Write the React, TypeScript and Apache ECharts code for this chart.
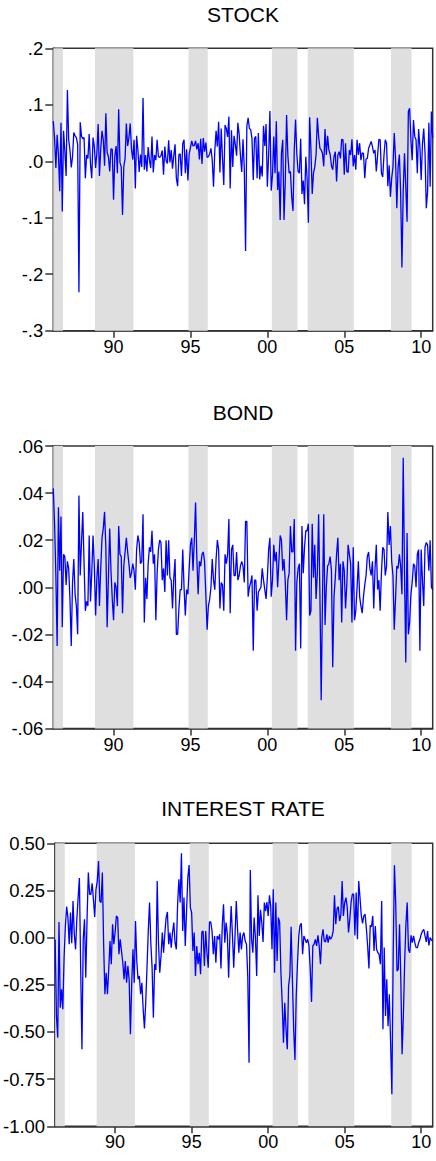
import React, { useEffect, useRef } from "react";
import * as echarts from "echarts";

// Monthly observations, first one 1986-02, last one 2010-10
const FIRST_YEAR = 1986;
const FIRST_MONTH = 2;

const tickYears = [1990, 1995, 2000, 2005, 2010];
const tickLabels = ["90", "95", "00", "05", "10"];

const shadedPeriods: [string, string][] = [
  ["1986-02", "1986-09"],
  ["1988-11", "1991-04"],
  ["1994-12", "1996-02"],
  ["2000-05", "2001-12"],
  ["2002-09", "2005-08"],
  ["2008-02", "2009-05"],
];

const panelTitles = ["STOCK", "BOND", "INTEREST RATE"];

const stockReturns = [
  0.071, 0.040, -0.012, 0.047, 0.012, -0.053, 0.068, -0.089, 0.054, 0.018, -0.026, // 1986
  0.126, 0.038, 0.020, -0.011, 0.008, 0.051, 0.045, 0.042, 0.030, -0.232, 0.069, 0.044, // 1987
  0.040, 0.042, -0.030, 0.011, 0.005, 0.048, -0.005, -0.030, 0.042, 0.026, -0.012, 0.015, // 1988
  0.066, -0.026, 0.021, 0.054, 0.038, -0.008, 0.085, 0.016, 0.008, -0.018, 0.022, 0.021, // 1989
  -0.068, 0.009, 0.027, -0.021, 0.092, -0.002, -0.010, -0.095, -0.010, 0.005, 0.067, 0.027, // 1990
  0.042, 0.067, 0.022, 0.003, 0.038, -0.048, 0.045, 0.020, -0.019, 0.012, -0.010, 0.112, // 1991
  -0.015, 0.011, -0.018, 0.025, 0.002, -0.012, 0.044, -0.020, 0.011, 0.002, 0.038, 0.008, // 1992
  0.007, 0.010, 0.019, -0.024, 0.026, 0.001, -0.004, 0.037, -0.002, 0.020, -0.013, 0.010, // 1993
  0.030, -0.030, -0.044, 0.012, 0.013, -0.026, 0.031, 0.038, -0.021, 0.021, -0.034, 0.013, // 1994
  0.024, 0.036, 0.027, 0.028, 0.036, 0.021, 0.032, 0.003, 0.040, -0.005, 0.041, 0.017, // 1995
  0.033, 0.007, 0.008, 0.013, 0.023, 0.002, -0.045, 0.019, 0.054, 0.026, 0.070, -0.020, // 1996
  0.058, 0.006, -0.042, 0.064, 0.058, 0.043, 0.079, -0.048, 0.055, -0.010, 0.045, 0.030, // 1997
  0.010, 0.068, 0.048, 0.010, -0.019, 0.039, -0.012, -0.159, 0.062, 0.077, 0.058, 0.056, // 1998
  0.040, -0.033, 0.041, 0.044, -0.030, 0.050, -0.032, -0.008, -0.027, 0.063, 0.027, 0.066, // 1999
  -0.045, 0.011, 0.089, -0.052, -0.025, 0.044, -0.021, 0.071, -0.051, -0.018, -0.104, 0.014, // 2000
  0.038, -0.104, -0.034, 0.082, 0.010, -0.021, -0.018, -0.063, -0.088, 0.020, 0.074, 0.012, // 2001
  -0.018, -0.021, 0.040, -0.058, -0.034, -0.076, 0.008, -0.030, -0.109, 0.078, 0.020, -0.058, // 2002
  -0.021, -0.010, 0.011, 0.077, 0.044, 0.023, 0.020, 0.014, -0.009, 0.057, 0.011, 0.045, // 2003
  0.020, 0.012, -0.008, -0.015, 0.008, 0.017, -0.036, 0.011, 0.017, 0.005, 0.039, 0.038, // 2004
  -0.024, 0.032, -0.018, -0.020, 0.020, 0.011, 0.039, -0.009, 0.011, -0.015, 0.038, 0.011, // 2005
  0.032, 0.002, 0.015, 0.014, -0.030, 0.004, 0.005, 0.023, 0.029, 0.035, 0.026, 0.014, // 2006
  0.020, -0.018, 0.010, 0.039, 0.038, -0.021, -0.028, 0.011, 0.038, 0.032, -0.044, -0.007, // 2007
  -0.063, -0.030, -0.010, 0.050, 0.005, -0.083, -0.010, 0.012, -0.057, -0.188, -0.051, 0.014, // 2008
  -0.045, -0.107, 0.088, 0.094, 0.038, 0.002, 0.073, 0.044, 0.038, -0.021, 0.057, 0.026, // 2009
  -0.033, 0.030, 0.058, 0.015, -0.083, -0.054, 0.068, -0.045, 0.088, 0.041, // 2010
];

const bondReturns = [
  0.042, 0.027, 0.005, -0.025, 0.034, 0.007, 0.030, -0.017, 0.014, 0.013, 0.001, // 1986
  0.011, 0.008, -0.005, -0.025, 0.002, 0.012, -0.003, -0.008, -0.020, 0.039, 0.005, 0.019, // 1987
  0.032, 0.010, -0.010, -0.006, -0.008, 0.022, -0.006, 0.006, 0.022, 0.009, -0.012, 0.004, // 1988
  0.012, -0.008, 0.008, 0.021, 0.025, 0.032, 0.017, -0.017, 0.004, 0.025, 0.007, -0.005, // 1989
  -0.014, 0.002, 0.000, -0.008, 0.026, 0.014, 0.013, -0.011, 0.009, 0.015, 0.021, 0.015, // 1990
  0.010, 0.004, 0.006, 0.010, 0.007, -0.001, 0.016, 0.022, 0.019, 0.010, 0.011, 0.031, // 1991
  -0.015, 0.004, -0.005, 0.010, 0.017, 0.015, 0.024, 0.010, 0.014, -0.014, 0.006, 0.016, // 1992
  0.020, 0.019, 0.003, 0.008, -0.002, 0.020, 0.005, 0.020, 0.004, 0.003, -0.009, 0.004, // 1993
  0.012, -0.020, -0.020, -0.009, -0.001, -0.001, 0.016, 0.000, -0.012, -0.001, -0.003, 0.008, // 1994
  0.018, 0.021, 0.007, 0.020, 0.036, 0.012, -0.003, 0.011, 0.009, 0.014, 0.015, 0.011, // 1995
  -0.003, -0.018, -0.008, -0.005, 0.000, 0.012, 0.003, -0.001, 0.012, 0.020, 0.016, -0.009, // 1996
  0.002, 0.001, -0.010, 0.014, 0.010, 0.014, 0.029, -0.011, 0.016, 0.018, 0.005, 0.005, // 1997
  0.015, 0.003, 0.005, 0.009, 0.011, 0.009, 0.002, 0.028, 0.028, -0.004, 0.000, 0.002, // 1998
  0.005, -0.027, 0.003, 0.003, -0.010, -0.002, -0.001, 0.000, 0.008, 0.003, -0.001, -0.005, // 1999
  0.004, 0.016, 0.021, -0.004, 0.003, 0.018, 0.011, 0.015, 0.000, 0.011, 0.022, 0.020, // 2000
  0.007, 0.012, 0.002, -0.014, 0.003, 0.006, 0.026, 0.015, 0.015, 0.029, -0.027, 0.002, // 2001
  0.008, 0.010, -0.026, 0.026, 0.006, 0.017, 0.024, 0.024, 0.027, -0.012, -0.010, 0.027, // 2002
  0.004, 0.018, -0.005, 0.006, 0.031, -0.003, -0.048, -0.005, 0.031, -0.016, 0.000, 0.009, // 2003
  0.010, 0.013, 0.007, -0.034, -0.004, 0.004, 0.014, 0.021, 0.003, 0.010, -0.015, 0.011, // 2004
  0.007, -0.009, 0.001, 0.018, 0.014, 0.010, -0.015, 0.017, -0.014, -0.010, 0.000, 0.011, // 2005
  -0.004, -0.008, -0.011, -0.004, 0.001, 0.005, 0.013, 0.015, 0.008, 0.005, 0.011, -0.009, // 2006
  0.008, 0.018, -0.001, 0.003, -0.010, 0.006, 0.017, 0.016, 0.005, 0.009, 0.032, 0.018, // 2007
  0.026, 0.011, 0.005, -0.018, -0.005, 0.009, 0.008, 0.014, 0.009, -0.003, 0.055, 0.006, // 2008
  -0.032, 0.023, -0.020, -0.015, -0.003, 0.002, 0.010, 0.009, 0.000, 0.014, 0.016, -0.027, // 2009
  0.016, 0.003, -0.008, 0.017, 0.019, 0.018, 0.007, 0.020, 0.000, -0.001, // 2010
];

const interestRateChanges = [
  -0.010, -0.415, -0.530, 0.083, -0.371, -0.274, -0.380, -0.106, 0.062, 0.164, 0.106, // 1986
  -0.035, 0.133, -0.030, 0.194, 0.018, -0.062, 0.097, 0.212, 0.316, -0.159, -0.592, -0.009, // 1987
  0.097, -0.212, 0.097, 0.345, 0.230, 0.230, 0.288, 0.203, 0.110, 0.256, 0.300, 0.406, // 1988
  0.194, 0.186, 0.345, -0.035, -0.300, -0.186, -0.300, -0.168, -0.018, -0.141, 0.071, -0.035, // 1989
  0.027, 0.115, 0.106, -0.088, -0.009, -0.071, -0.129, -0.221, -0.124, -0.239, -0.150, -0.221, // 1990
  -0.512, -0.247, -0.062, -0.239, 0.088, -0.124, -0.221, -0.203, -0.300, -0.239, -0.380, -0.482, // 1991
  -0.345, -0.159, 0.035, 0.186, -0.027, -0.159, -0.424, -0.141, -0.171, 0.300, -0.027, -0.186, // 1992
  -0.097, 0.027, -0.080, 0.023, 0.106, 0.136, -0.035, 0.027, -0.053, 0.027, 0.080, -0.027, // 1993
  -0.062, 0.177, 0.309, 0.186, 0.447, 0.035, 0.212, -0.044, 0.136, 0.318, 0.385, 0.159, // 1994
  0.133, -0.071, 0.027, -0.203, -0.044, -0.141, -0.080, -0.194, 0.030, 0.035, -0.150, 0.035, // 1995
  -0.080, -0.159, 0.083, 0.083, 0.035, -0.088, 0.009, -0.133, 0.009, -0.009, 0.018, -0.164, // 1996
  0.062, 0.177, -0.027, 0.080, 0.018, -0.212, 0.009, 0.168, 0.012, -0.159, 0.009, 0.194, // 1997
  0.044, -0.080, 0.027, -0.062, 0.009, 0.027, -0.018, -0.035, -0.203, -0.663, 0.359, -0.009, // 1998
  -0.080, 0.106, 0.000, -0.203, 0.224, 0.009, 0.147, 0.080, -0.023, 0.186, 0.141, 0.189, // 1999
  0.115, 0.224, 0.168, -0.062, 0.256, -0.186, 0.186, -0.124, 0.106, 0.083, -0.186, -0.345, // 2000
  -0.557, -0.345, -0.486, -0.592, -0.256, -0.203, 0.058, -0.221, -0.486, -0.648, -0.309, -0.133, // 2001
  0.009, 0.065, 0.076, -0.088, 0.009, -0.009, -0.027, -0.009, -0.044, -0.168, -0.341, -0.044, // 2002
  -0.035, -0.009, -0.044, 0.012, -0.044, -0.141, 0.000, 0.044, -0.018, -0.023, 0.018, -0.027, // 2003
  0.009, -0.009, 0.005, 0.035, 0.224, 0.071, 0.154, 0.164, 0.088, 0.120, 0.300, 0.115, // 2004
  0.186, 0.212, 0.159, 0.027, 0.097, 0.186, 0.230, 0.230, 0.012, 0.239, -0.009, 0.300, // 2005
  0.212, 0.118, 0.076, 0.115, 0.124, 0.048, -0.044, -0.164, 0.065, 0.058, 0.115, -0.071, // 2006
  0.062, -0.062, -0.080, -0.088, -0.141, 0.194, -0.486, -0.053, -0.415, -0.221, -0.470, -0.300, // 2007
  -0.560, -0.830, -0.100, 0.383, 0.186, -0.177, -0.168, 0.071, -0.221, -0.618, -0.415, -0.133, // 2008
  0.071, 0.186, -0.062, -0.080, 0.012, -0.027, 0.009, -0.027, -0.053, -0.053, -0.027, -0.009, // 2009
  0.018, 0.035, 0.044, 0.009, -0.023, 0.035, -0.041, 0.000, -0.012, -0.018, // 2010
];

const FONT = '"Liberation Sans", Arial, Helvetica, sans-serif';
const AXIS_COLOR = "#333333";

function monthIndex(ym: string): number {
  const [y, m] = ym.split("-").map(Number);
  return (y - FIRST_YEAR) * 12 + (m - FIRST_MONTH);
}

function fmt(v: number, digits: number, dropLeadingZero: boolean): string {
  const x = Math.abs(v) < 1e-9 ? 0 : v;
  const s = x.toFixed(digits);
  return dropLeadingZero ? s.replace(/^(-?)0\./, "$1.") : s;
}

export default function App() {
  const ref = useRef<HTMLDivElement>(null);

  useEffect(() => {
    if (!ref.current) return;
    const chart = echarts.init(ref.current, null, { renderer: "svg" });

    const panels = [
      { data: stockReturns, min: -0.3, max: 0.2, interval: 0.1, digits: 1, drop: true, top: 48.3, height: 282.4, titleY: 14.5 },
      { data: bondReturns, min: -0.06, max: 0.06, interval: 0.02, digits: 2, drop: true, top: 446, height: 282.5, titleY: 412 },
      { data: interestRateChanges, min: -1, max: 0.5, interval: 0.25, digits: 2, drop: false, top: 843.3, height: 283, titleY: 808.5 },
    ];

    const n = stockReturns.length;
    const tickIdx = tickYears.map((y) => monthIndex(`${y}-01`));
    const xLabel = (v: number) => {
      const k = tickIdx.indexOf(Math.round(v));
      return k >= 0 ? tickLabels[k] : "";
    };

    const areas = shadedPeriods.map(([a, b]) => [
      { xAxis: Math.max(0, monthIndex(a) - 0.5) },
      { xAxis: Math.min(n - 1, monthIndex(b) + 0.5) },
    ]);

    const option: any = {
      animation: false,
      backgroundColor: "#ffffff",
      textStyle: { fontFamily: FONT },
      grid: panels.map((p) => ({
        left: 53.3,
        right: 3.3,
        top: p.top,
        height: p.height,
        show: true,
        borderColor: AXIS_COLOR,
        borderWidth: 1.5,
        backgroundColor: "transparent",
      })),
      xAxis: panels.map((p, k) => ({
        type: "value",
        gridIndex: k,
        min: 0,
        max: n - 1,
        axisLine: { show: true, onZero: false, lineStyle: { color: AXIS_COLOR, width: 1.5 } },
        axisTick: { show: true, customValues: tickIdx, length: 7, lineStyle: { color: AXIS_COLOR, width: 1.5 } },
        axisLabel: {
          show: true,
          customValues: tickIdx,
          formatter: xLabel,
          margin: 7,
          fontSize: 18,
          color: "#000",
          fontFamily: FONT,
        },
        splitLine: { show: false },
      })),
      yAxis: panels.map((p, k) => ({
        type: "value",
        gridIndex: k,
        min: p.min,
        max: p.max,
        interval: p.interval,
        axisLine: { show: true, onZero: false, lineStyle: { color: AXIS_COLOR, width: 1.5 } },
        axisTick: { show: true, length: 8, lineStyle: { color: AXIS_COLOR, width: 1.5 } },
        axisLabel: {
          formatter: (v: number) => fmt(v, p.digits, p.drop),
          margin: 10,
          fontSize: 18.5,
          color: "#000",
          fontFamily: FONT,
        },
        splitLine: { show: false },
      })),
      series: panels.map((p, k) => ({
        type: "line",
        xAxisIndex: k,
        yAxisIndex: k,
        data: p.data.map((v, i) => [i, v]),
        showSymbol: false,
        symbol: "none",
        lineStyle: { color: "#0000ff", width: 1.3 },
        itemStyle: { color: "#0000ff" },
        markArea: {
          silent: true,
          itemStyle: { color: "#dfdfdf" },
          data: areas,
        },
      })),
      graphic: panels.map((p, k) => ({
        type: "text",
        x: 243,
        y: p.titleY,
        style: {
          text: panelTitles[k],
          fill: "#000",
          fontSize: 21,
          fontFamily: FONT,
          textAlign: "center",
          textVerticalAlign: "middle",
          align: "center",
          verticalAlign: "middle",
        },
      })),
    };

    chart.setOption(option);
    return () => chart.dispose();
  }, []);

  return (
    <div
      ref={ref}
      style={{ position: "absolute", left: 0, top: 0, width: 436, height: 1161 }}
    />
  );
}
